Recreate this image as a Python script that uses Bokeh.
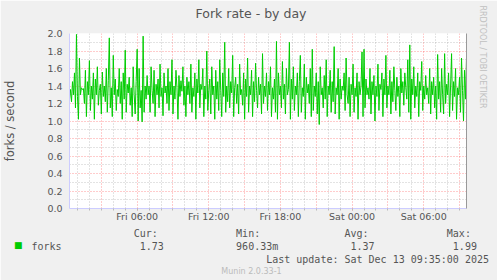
from datetime import datetime, timedelta
from bokeh.plotting import figure
from bokeh.models import (FixedTicker, Label, LinearAxis, Range1d, ColumnDataSource,
                          DatetimeTickFormatter, Title)
from bokeh.embed import file_html
from bokeh.resources import INLINE

# ---------------- data ----------------
title_text = "Fork rate - by day"
y_label = "forks / second"
series_name = "forks"
start = datetime(2025, 12, 12, 0, 20)
end = datetime(2025, 12, 13, 9, 35)

fork_rate = [
    1.25, 1.36, 1.22, 1.45, 1.30, 1.55, 1.15, 1.99, 1.28, 1.02, 1.72, 1.30, 1.38, 1.36, 1.37, 1.20, 1.58, 1.05, 1.45, 1.30,
    1.69, 1.12, 1.40, 1.25, 1.55, 1.02, 1.48, 1.30, 1.62, 1.18, 1.35, 1.42, 1.08, 1.56, 1.28, 1.40, 1.22, 1.60, 1.10, 1.46,
    1.95, 1.15, 1.38, 1.05, 1.75, 1.30, 1.48, 1.12, 1.36, 1.28, 1.60, 1.20, 1.45, 1.02, 1.55, 1.25, 1.81, 1.10, 1.42, 1.32,
    1.50, 1.18, 1.38, 1.05, 1.62, 1.30, 1.08, 1.45, 1.82, 1.00, 1.60, 1.15, 1.35, 0.99, 1.97, 1.10, 1.40, 1.25, 1.52, 1.30,
    1.40, 1.10, 1.62, 1.35, 1.20, 1.58, 1.05, 1.42, 1.30, 1.48, 1.15, 1.65, 1.28, 1.38, 1.06, 1.55, 1.32, 1.40, 1.20, 1.60,
    1.12, 1.45, 1.30, 1.70, 1.08, 1.40, 1.25, 1.58, 1.38, 1.02, 1.52, 1.28, 1.46, 1.34, 1.62, 1.18, 1.40, 1.05, 1.50, 1.30,
    1.45, 1.20, 1.65, 1.10, 1.38, 1.28, 1.55, 1.02, 1.48, 1.32, 1.70, 1.15, 1.42, 1.36, 1.60, 1.05, 1.40, 1.25, 1.80, 1.12,
    1.35, 1.48, 1.08, 1.62, 1.30, 1.40, 1.02, 1.58, 1.25, 1.45, 1.12, 1.70, 1.35, 1.05, 1.55, 1.28, 1.90, 1.10, 1.40, 1.22,
    1.60, 1.15, 1.45, 1.32, 1.75, 1.05, 1.38, 1.50, 1.20, 1.42, 1.08, 1.65, 1.30, 1.36, 1.18, 1.55, 1.02, 1.48, 1.28, 1.72,
    1.10, 1.40, 1.30, 1.58, 1.05, 1.45, 1.22, 1.66, 1.35, 1.15, 1.50, 1.30, 1.42, 1.08, 1.77, 1.20, 1.40, 1.28, 1.55, 1.12,
    1.45, 1.30, 1.62, 1.05, 1.38, 1.25, 1.48, 1.10, 1.91, 1.02, 1.55, 1.30, 1.40, 1.15, 1.68, 1.25, 1.42, 1.08, 1.60, 1.30,
    1.36, 1.90, 1.02, 1.48, 1.25, 1.62, 1.12, 1.40, 1.30, 1.55, 1.05, 1.45, 1.75, 1.10, 1.38, 1.28, 1.65, 1.02, 1.50, 1.32,
    1.42, 1.20, 1.60, 1.05, 1.82, 1.12, 1.40, 1.28, 1.55, 1.08, 1.45, 0.96, 1.62, 1.30, 1.38, 1.15, 1.52, 1.25, 1.70, 1.05,
    1.40, 1.30, 1.58, 1.10, 1.45, 1.22, 1.85, 1.08, 1.38, 1.30, 1.60, 1.02, 1.48, 1.25, 1.40, 1.35, 1.55, 1.12, 1.72, 1.30,
    1.20, 1.50, 1.05, 1.42, 1.30, 1.65, 1.10, 1.38, 1.28, 1.55, 1.02, 1.45, 1.30, 1.40, 1.79, 1.05, 1.82, 1.15, 1.48, 1.30,
    1.38, 1.25, 1.60, 1.08, 1.45, 1.30, 1.52, 1.00, 1.40, 1.28, 1.65, 1.12, 1.42, 1.36, 1.55, 1.05, 1.48, 1.30, 1.75, 1.15,
    1.40, 1.30, 1.58, 1.08, 1.45, 1.22, 1.62, 1.35, 1.12, 1.50, 1.28, 1.40, 1.05, 1.60, 1.32, 1.45, 1.18, 1.55, 1.38, 1.25,
    1.70, 1.10, 1.87, 1.02, 1.48, 1.30, 1.62, 1.15, 1.40, 1.28, 1.55, 1.05, 1.45, 1.35, 1.68, 1.12, 1.40, 1.25, 1.52, 1.30,
    1.38, 1.20, 1.60, 1.08, 1.45, 1.30, 1.50, 1.15, 1.40, 1.02, 1.76, 1.25, 1.45, 1.10, 1.60, 1.30, 1.08, 1.77, 1.20, 1.42,
    1.30, 1.55, 1.05, 1.40, 1.77, 1.12, 1.45, 1.28, 1.60, 1.02, 1.38, 1.30, 1.50, 1.10, 1.72, 1.35, 1.00, 1.58, 1.25, 1.73,
]

x_tick_times = [datetime(2025, 12, 12, 6), datetime(2025, 12, 12, 12), datetime(2025, 12, 12, 18),
                datetime(2025, 12, 13, 0), datetime(2025, 12, 13, 6)]
x_tick_labels = ["Fri 06:00", "Fri 12:00", "Fri 18:00", "Sat 00:00", "Sat 06:00"]
y_ticks = [0.0, 0.2, 0.4, 0.6, 0.8, 1.0, 1.2, 1.4, 1.6, 1.8, 2.0]
y_tick_labels = ["0.0", "0.2", "0.4", "0.6", "0.8", "1.0", "1.2", "1.4", "1.6", "1.8", "2.0"]
y_minor = [0.1, 0.3, 0.5, 0.7, 0.9, 1.1, 1.3, 1.5, 1.7, 1.9]

legend_headers = ["Cur:", "Min:", "Avg:", "Max:"]
legend_values = ["1.73", "960.33m", "1.37", "1.99"]
last_update = "Last update: Sat Dec 13 09:35:00 2025"
footer = "Munin 2.0.33-1"
side_text = "RRDTOOL / TOBI OETIKER"

# ---------------- helpers ----------------
EPOCH = datetime(1970, 1, 1)
def ms(d):
    return (d - EPOCH).total_seconds() * 1000.0

times = [start + timedelta(minutes=5 * i) for i in range(len(fork_rate))]
src = ColumnDataSource(dict(time=times, forks=fork_rate))

hours = []
h = datetime(2025, 12, 12, 1)
while h < end:
    hours.append(h)
    h += timedelta(hours=1)
hour_ms = [ms(t) for t in hours]
three_h_ms = [ms(t) for t in hours if t.hour % 3 == 0]
minor_x = [ms(t) for t in hours if t.hour % 3 != 0]
tick_ms = [ms(t) for t in x_tick_times]

TXT = "#555555"
MONO = "DejaVu Sans Mono"
SANS = "DejaVu Sans"
NB = "\u00a0"

p = figure(width=497, height=280, x_axis_type="datetime",
           x_range=Range1d(ms(start), ms(end)), y_range=Range1d(0, 2.0),
           output_backend="svg", toolbar_location=None,
           min_border_left=67, min_border_right=31, min_border_top=33, min_border_bottom=72,
           background_fill_color="white", border_fill_color="#f0f0f0",
           outline_line_color=None)

# grids
p.xgrid.ticker = FixedTicker(ticks=three_h_ms, minor_ticks=minor_x)
p.ygrid.ticker = FixedTicker(ticks=y_ticks, minor_ticks=y_minor)
for g in (p.xgrid, p.ygrid):
    g.grid_line_color = "#ff0000"
    g.grid_line_alpha = 0.4
    g.grid_line_dash = "1 2"
    g.minor_grid_line_color = "#999999"
    g.minor_grid_line_alpha = 0.55
    g.minor_grid_line_dash = "1 2"

# x axis
xa = p.xaxis[0]
xa.ticker = FixedTicker(ticks=tick_ms, minor_ticks=hour_ms)
xa.formatter = DatetimeTickFormatter(hours="%a %H:%M", days="%a %H:%M", hourmin="%a %H:%M")
xa.major_label_overrides = {t: lab for t, lab in zip(tick_ms, x_tick_labels)}
xa.axis_line_color = "#ccccff"
xa.major_tick_line_color = "#ff9999"
xa.major_tick_in = 0
xa.major_tick_out = 2
xa.minor_tick_line_color = "#bbbbbb"
xa.minor_tick_in = 0
xa.minor_tick_out = 2
xa.major_label_standoff = 0
xa.major_label_text_font = SANS
xa.major_label_text_font_size = "9.5px"
xa.major_label_text_color = TXT

# y axis
ya = p.yaxis[0]
ya.ticker = FixedTicker(ticks=y_ticks, minor_ticks=[])
ya.major_label_overrides = {t: lab for t, lab in zip(y_ticks, y_tick_labels)}
ya.axis_line_color = "#ccccff"
ya.major_tick_line_color = None
ya.major_tick_in = 0
ya.major_tick_out = 0
ya.minor_tick_line_color = None
ya.minor_tick_in = 0
ya.minor_tick_out = 0
ya.major_label_standoff = 7
ya.major_label_text_font = SANS
ya.major_label_text_font_size = "9.5px"
ya.major_label_text_color = TXT
ya.axis_label = y_label
ya.axis_label_text_font = SANS
ya.axis_label_text_font_size = "11.5px"
ya.axis_label_text_font_style = "normal"
ya.axis_label_text_color = TXT
ya.axis_label_standoff = 27

# right edge line
ra = LinearAxis(ticker=FixedTicker(ticks=[]), axis_line_color="#999999",
                major_tick_line_color=None, minor_tick_line_color=None,
                major_tick_in=0, major_tick_out=0, minor_tick_in=0, minor_tick_out=0,
                major_label_standoff=0, major_label_text_font_size="0px")
p.add_layout(ra, "right")

# data line
p.line(x="time", y="forks", source=src, line_color="#00cc00", line_width=1)

# ---- texts in side panels (screen coords relative to each panel) ----
FL = 67
def make_label(text, x, y, font=MONO, size="10px", color=TXT, align="left", baseline="middle", angle=0.0):
    return Label(x=x, y=y, x_units="screen", y_units="screen", text=text,
                 text_font=font, text_font_size=size, text_color=color,
                 text_align=align, text_baseline=baseline, angle=angle)

# above: title (panel 1), footer (panel 2)
p.add_layout(make_label(title_text, 248.5 - FL, 33 - 12.5, font=SANS, size="12.5px", align="center"), "above")
p.add_layout(make_label(footer, 249 - FL, 16 - 269, font=SANS, size="8px", color="#bbbbbb", align="center"), "above")

# below: legend block
def row(items, origin):
    s = ""
    for x, t in items:
        col = round((x - origin) / 6.02)
        s += NB * max(col - len(s), 1 if s else col) + t
    return s

origin = 28.9
line1 = row(list(zip([131.5, 235.5, 342.0, 447.0], legend_headers)), origin)
line2 = row([(28.9, series_name)] + list(zip([137.0, 231.0, 348.0, 453.0], legend_values)), origin)
line3 = row([(261.5, last_update)], origin)
block = "\n".join([line1, line2, line3])
p.add_layout(make_label(block, origin - FL, 34, baseline="top"), "below")

# right: legend colour square, then side text
p.add_layout(make_label("\u25a0", 13.5 - 466, -36.5, font=SANS, size="9px", color="#00cc00"), "right")
p.add_layout(Title(text=side_text, align="left", text_font=SANS, text_font_size="8px",
                   text_font_style="normal", text_color="#c0c0c0", standoff=4, offset=-28), "right")

open("out.html", "w").write(file_html(p, INLINE))
